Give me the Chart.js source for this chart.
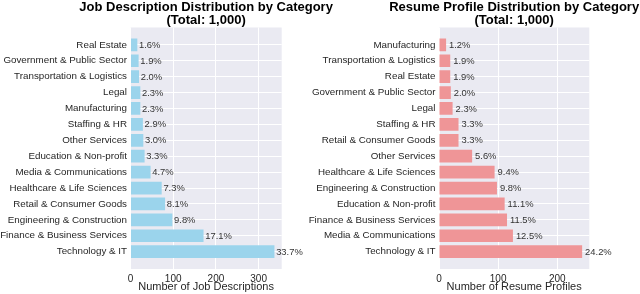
<!DOCTYPE html>
<html>
<head>
<meta charset="utf-8">
<script src="https://cdn.jsdelivr.net/npm/chart.js@4.4.1/dist/chart.umd.min.js"></script>
<style>
  html, body { margin: 0; padding: 0; background: #ffffff; }
  #wrap { position: relative; width: 640px; height: 294px; overflow: hidden; }
  canvas { position: absolute; left: 0; top: 0; }
</style>
</head>
<body>
<div id="wrap">
  <canvas id="c1" width="640" height="294"></canvas>
  <canvas id="c2" width="640" height="294"></canvas>
</div>
<script>
// ---- Data (bottom-to-top order, as drawn) ----
const jobCategories = [
  "Technology & IT", "Finance & Business Services", "Engineering & Construction",
  "Retail & Consumer Goods", "Healthcare & Life Sciences", "Media & Communications",
  "Education & Non-profit", "Other Services", "Staffing & HR", "Manufacturing",
  "Legal", "Transportation & Logistics", "Government & Public Sector", "Real Estate"
];
const jobCounts = [337, 171, 98, 81, 73, 47, 33, 30, 29, 23, 23, 20, 19, 16];
const jobPercents = ["33.7%", "17.1%", "9.8%", "8.1%", "7.3%", "4.7%", "3.3%", "3.0%", "2.9%", "2.3%", "2.3%", "2.0%", "1.9%", "1.6%"];
const jobTicks = [0, 100, 200, 300];

const resumeCategories = [
  "Technology & IT", "Media & Communications", "Finance & Business Services",
  "Education & Non-profit", "Engineering & Construction", "Healthcare & Life Sciences",
  "Other Services", "Retail & Consumer Goods", "Staffing & HR", "Legal",
  "Government & Public Sector", "Real Estate", "Transportation & Logistics", "Manufacturing"
];
const resumeCounts = [242, 125, 115, 111, 98, 94, 56, 33, 33, 23, 20, 19, 19, 12];
const resumePercents = ["24.2%", "12.5%", "11.5%", "11.1%", "9.8%", "9.4%", "5.6%", "3.3%", "3.3%", "2.3%", "2.0%", "1.9%", "1.9%", "1.2%"];
const resumeTicks = [0, 100, 200];

const FONT = "'Liberation Sans', Arial, 'DejaVu Sans', sans-serif";
const TEXT = "#262626";

function makeChart(id, cfg) {
  const n = cfg.labels.length;
  const bgPlugin = {
    id: 'bg',
    beforeDraw(chart) {
      const a = chart.chartArea, ctx = chart.ctx;
      ctx.save();
      ctx.fillStyle = '#EAEAF2';
      ctx.fillRect(a.left, a.top, a.right - a.left, a.bottom - a.top);
      ctx.restore();
    }
  };
  const labelPlugin = {
    id: 'vals',
    afterDatasetsDraw(chart) {
      const ctx = chart.ctx, xs = chart.scales.x, ys = chart.scales.y;
      ctx.save();
      ctx.font = "9.4px " + FONT;
      ctx.fillStyle = "#333333";
      ctx.textAlign = 'left';
      ctx.textBaseline = 'middle';
      cfg.values.forEach((v, i) => {
        ctx.fillText(cfg.pcts[i], xs.getPixelForValue(v + cfg.textOffset), ys.getPixelForValue(i) + 0.5);
      });
      ctx.restore();
    }
  };
  const titlePlugin = {
    id: 'ttl',
    afterDraw(chart) {
      const ctx = chart.ctx, a = chart.chartArea;
      const cx = (a.left + a.right) / 2;
      ctx.save();
      ctx.font = "bold 13px " + FONT;
      ctx.fillStyle = "#000000";
      ctx.textAlign = 'center';
      ctx.textBaseline = 'alphabetic';
      ctx.fillText(cfg.title[0], cx, 10.5);
      ctx.fillText(cfg.title[1], cx, 24);
      ctx.restore();
    }
  };
  return new Chart(document.getElementById(id), {
    type: 'bar',
    data: {
      datasets: [{
        data: cfg.values.map((v, i) => ({ x: v, y: i })),
        backgroundColor: cfg.color,
        borderWidth: 0,
        categoryPercentage: 1.0,
        barPercentage: 0.8
      }]
    },
    options: {
      indexAxis: 'y',
      responsive: false,
      animation: false,
      devicePixelRatio: 1,
      layout: { padding: { left: 0, right: cfg.padRight, top: 27.5, bottom: 0 } },
      plugins: { legend: { display: false }, tooltip: { enabled: false }, title: { display: false } },
      scales: {
        x: {
          type: 'linear',
          min: 0,
          max: cfg.xmax,
          afterBuildTicks(s) { s.ticks = cfg.ticks.map(v => ({ value: v })); },
          afterFit(s) { s.height = 25; },
          grid: { color: '#ffffff', lineWidth: 1, drawTicks: false },
          border: { display: false },
          ticks: { padding: 4, color: TEXT, font: { family: FONT, size: 10 }, maxRotation: 0 },
          title: { display: true, text: cfg.xTitle, color: TEXT, font: { family: FONT, size: 11 }, padding: 0 }
        },
        y: {
          type: 'linear',
          offset: false,
          min: -1.09,
          max: n - 1 + 1.09,
          afterBuildTicks(s) { s.ticks = cfg.labels.map((l, i) => ({ value: i })); },
          afterFit(s) { s.width = cfg.yWidth; },
          grid: { color: '#ffffff', lineWidth: 1, drawTicks: false, offset: false },
          border: { display: false },
          ticks: {
            padding: 3.5, color: TEXT, font: { family: FONT, size: 9.8 }, autoSkip: false,
            callback: (v) => cfg.labels[v]
          }
        }
      }
    },
    plugins: [bgPlugin, labelPlugin, titlePlugin]
  });
}

makeChart('c1', {
  labels: jobCategories, values: jobCounts, pcts: jobPercents, ticks: jobTicks,
  color: '#9BD4EC', xmax: 354, yWidth: 130.5, padRight: 358.3, textOffset: 4,
  xTitle: 'Number of Job Descriptions',
  title: ['Job Description Distribution by Category', '(Total: 1,000)']
});
makeChart('c2', {
  labels: resumeCategories, values: resumeCounts, pcts: resumePercents, ticks: resumeTicks,
  color: '#EF9597', xmax: 254.1, yWidth: 439, padRight: 50.7, textOffset: 5,
  xTitle: 'Number of Resume Profiles',
  title: ['Resume Profile Distribution by Category', '(Total: 1,000)']
});
</script>
</body>
</html>
